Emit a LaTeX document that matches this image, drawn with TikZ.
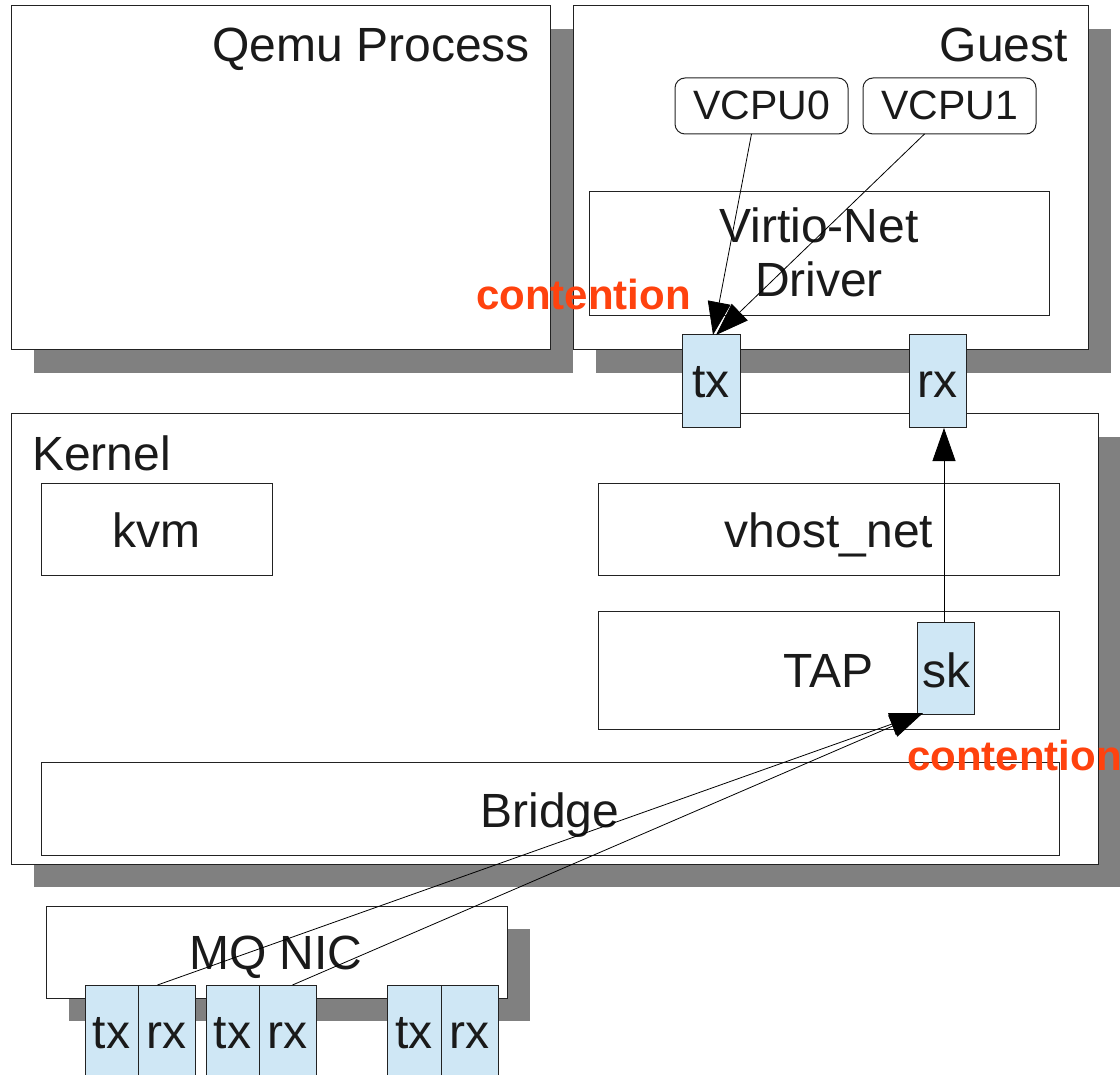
\documentclass[tikz,border=0pt]{standalone}
\usepackage{fontspec}
\setmainfont{Liberation Sans}
\usetikzlibrary{arrows.meta}
\definecolor{shadowc}{HTML}{808080}
\definecolor{qblue}{HTML}{CFE7F5}
\definecolor{contc}{HTML}{FF420E}
\definecolor{txtc}{HTML}{1A1A1A}
\definecolor{edgec}{HTML}{222222}
\begin{document}
\begin{tikzpicture}[x=1pt,y=-1pt,
  box/.style={draw=edgec, line width=1pt, fill=white, inner sep=0pt, outer sep=0pt},
  qbox/.style={draw=edgec, line width=1pt, fill=qblue, inner sep=0pt, outer sep=0pt},
  rbox/.style={box, rounded corners=10pt},
  big/.style={inner sep=0pt, text=txtc, font=\fontsize{48}{54}\selectfont},
  mid/.style={inner sep=0pt, text=txtc, font=\fontsize{41}{48}\selectfont},
  cont/.style={inner sep=0pt, text=contc, font=\bfseries\fontsize{42}{48}\selectfont},
  conn/.style={draw=black, line width=0.8pt},
  bighead/.style={conn, -{Triangle[length=33pt,width=23pt]}}
]
\clip (0,0) rectangle (1120,1075);
\fill[white] (0,0) rectangle (1120,1075);
% shadows
\fill[shadowc] (34,29) rectangle (573,373);
\fill[shadowc] (596,29) rectangle (1111,373);
\fill[shadowc] (34,437) rectangle (1121,887);
\fill[shadowc] (69,929) rectangle (530,1021);
% main boxes
\node[box, minimum width=539pt, minimum height=344pt] (qemu) at (280.5,178) {};
\node[box, minimum width=515pt, minimum height=344pt] (guest) at (830.5,178) {};
\node[box, minimum width=1087pt, minimum height=450pt] (kernel) at (554.5,639) {};
\node[box, minimum width=461pt, minimum height=92pt] (nic) at (276.5,952) {};
% inner boxes
\node[box, minimum width=460pt, minimum height=124pt] (virtio) at (819,254) {};
\node[rbox, minimum width=173pt, minimum height=56pt] (v0) at (761.5,106) {};
\node[rbox, minimum width=173pt, minimum height=56pt] (v1) at (949.5,106) {};
\node[box, minimum width=231pt, minimum height=92pt] (kvm) at (156.5,529) {};
\node[box, minimum width=461pt, minimum height=92pt] (vhost) at (828.5,529) {};
\node[box, minimum width=461pt, minimum height=118pt] (tap) at (828.5,670) {};
\node[box, minimum width=1018pt, minimum height=93pt] (bridge) at (550,808.5) {};
% queue boxes
\node[qbox, minimum width=58pt, minimum height=93pt] (gtx) at (711,381.5) {};
\node[qbox, minimum width=57pt, minimum height=93pt] (grx) at (937.5,381.5) {};
\node[qbox, minimum width=57pt, minimum height=92pt] (sk) at (945.5,668) {};
\node[qbox, minimum width=53pt, minimum height=100pt] (ntx1) at (111.5,1035) {};
\node[qbox, minimum width=57pt, minimum height=100pt] (nrx1) at (166.5,1035) {};
\node[qbox, minimum width=53pt, minimum height=100pt] (ntx2) at (232.5,1035) {};
\node[qbox, minimum width=57pt, minimum height=100pt] (nrx2) at (287.5,1035) {};
\node[qbox, minimum width=54pt, minimum height=100pt] (ntx3) at (414,1035) {};
\node[qbox, minimum width=57pt, minimum height=100pt] (nrx3) at (469.5,1035) {};
% labels
\node[big, anchor=base east] (lqemu) at (530,62) {Qemu Process};
\node[big, anchor=base east] (lguest) at (1068,62) {Guest};
\node[mid, anchor=base] (lv0) at (761.5,120) {VCPU0};
\node[mid, anchor=base] (lv1) at (949.5,120) {VCPU1};
\node[big, anchor=base] (lvirtio1) at (819,243) {Virtio-Net};
\node[big, anchor=base] (lvirtio2) at (819,297) {Driver};
\node[big, anchor=base] (lgtx) at (711,398) {tx};
\node[big, anchor=base] (lgrx) at (937.5,398) {rx};
\node[big, anchor=base west] (lkernel) at (32,470) {Kernel};
\node[big, anchor=base] (lkvm) at (156.5,547) {kvm};
\node[big, anchor=base] (lvhost) at (829,547) {vhost\_net};
\node[big, anchor=base] (ltap) at (828.5,687) {TAP};
\node[big, anchor=base] (lsk) at (946,687) {sk};
\node[big, anchor=base] (lbridge) at (550,827) {Bridge};
\node[big, anchor=base] (lnic) at (276,969) {MQ NIC};
\node[big, anchor=base] (lntx1) at (111.5,1048) {tx};
\node[big, anchor=base] (lnrx1) at (166.5,1048) {rx};
\node[big, anchor=base] (lntx2) at (232.5,1048) {tx};
\node[big, anchor=base] (lnrx2) at (287.5,1048) {rx};
\node[big, anchor=base] (lntx3) at (414,1048) {tx};
\node[big, anchor=base] (lnrx3) at (469.5,1048) {rx};
\node[cont, anchor=base west] (c1) at (476,310) {contention};
\node[cont, anchor=base west] (c2) at (907,770) {contention};
% connectors
\draw[bighead] ([xshift=-10pt]v0.south) -- ([xshift=2pt]gtx.north);
\draw[bighead] ([xshift=-25pt]v1.south) -- ([xshift=5pt]gtx.north);
\draw[bighead] ([xshift=-1.5pt]sk.north) -- ([xshift=-1.5pt]sk.north |- grx.south);
\draw[bighead] ([xshift=-9pt]nrx1.north) -- ([xshift=6pt,yshift=1pt]sk.south west);
\draw[bighead] ([xshift=5pt]nrx2.north) -- ([xshift=6pt,yshift=1pt]sk.south west);
\end{tikzpicture}
\end{document}
